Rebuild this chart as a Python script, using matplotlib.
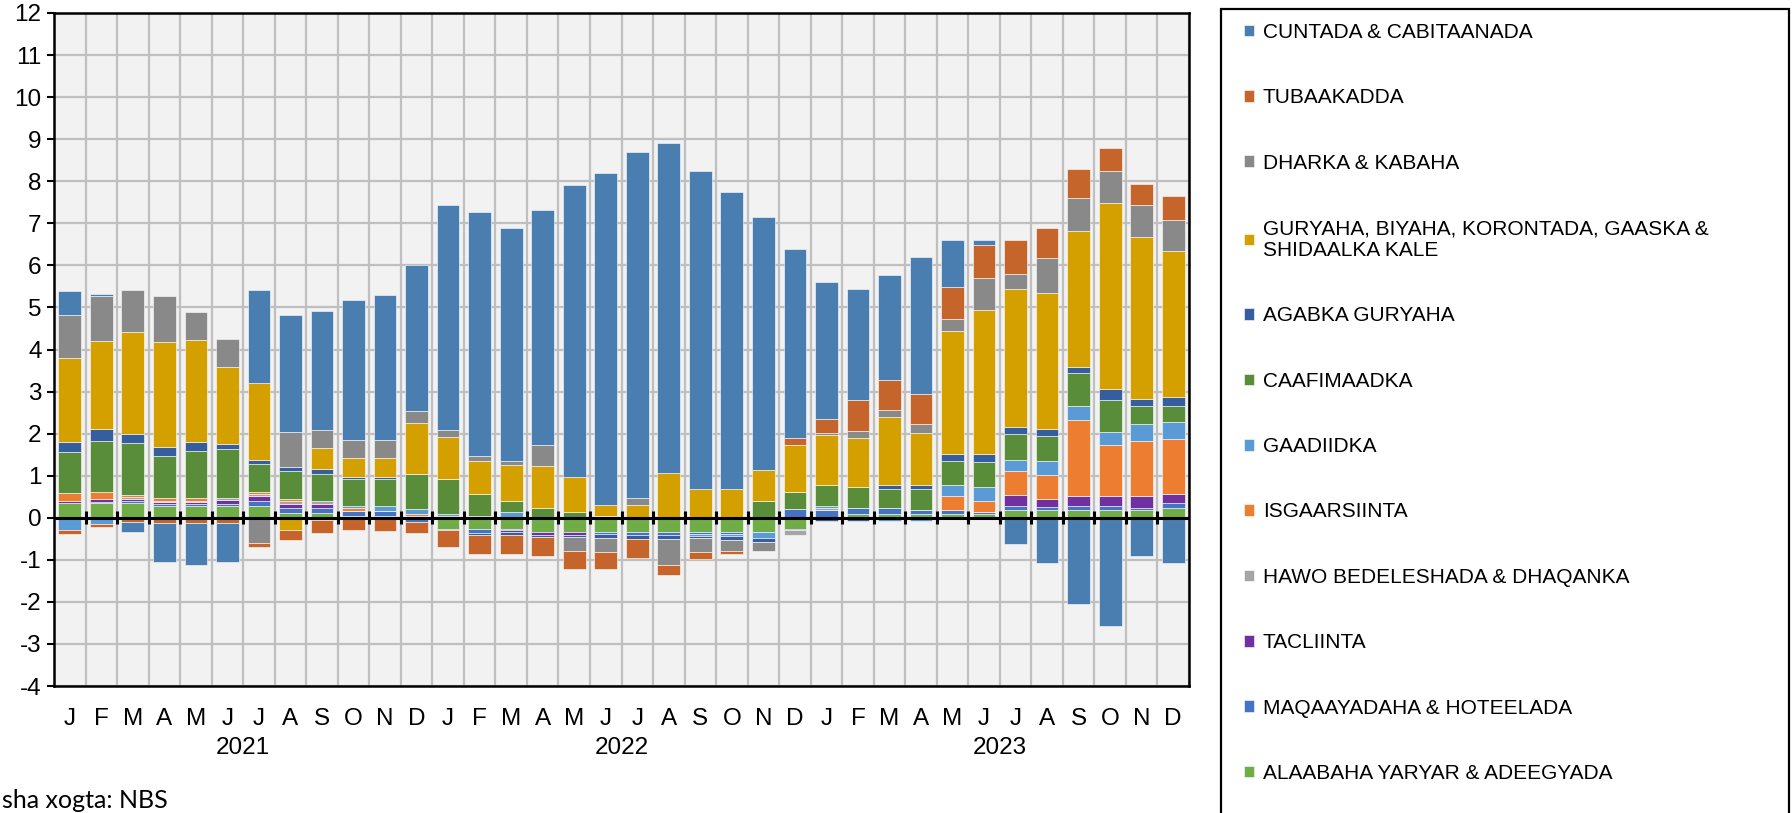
import numpy as np
import matplotlib
matplotlib.use("Agg")
import matplotlib.pyplot as plt
from matplotlib.patches import Rectangle

plt.rcParams['font.family'] = ['Liberation Sans', 'DejaVu Sans']
plt.rcParams['axes.unicode_minus'] = False

months = ["J", "F", "M", "A", "M", "J", "J", "A", "S", "O", "N", "D"] * 3
years = ["2021", "2022", "2023"]

# Series (legend order)
cuntada = [0.56, 0.05, -0.25, -0.93, -1.0, -0.93, 2.22, 2.77, 2.82, 3.32, 3.43, 3.48,
           5.35, 5.8, 5.53, 5.58, 6.95, 7.89, 8.24, 7.86, 7.56, 7.06, 6.02, 4.5,
           3.25, 2.66, 2.5, 3.26, 1.11, 0.12, -0.63, -1.08, -2.05, -2.58, -0.9, -1.08]
tubaakadda = [-0.1, -0.05, -0.1, -0.12, -0.12, -0.12, -0.1, -0.26, -0.3, -0.3, -0.32, -0.27,
              -0.4, -0.44, -0.44, -0.44, -0.42, -0.42, -0.45, -0.22, -0.16, -0.05, 0.0, 0.16,
              0.34, 0.72, 0.72, 0.72, 0.77, 0.77, 0.82, 0.71, 0.71, 0.55, 0.49, 0.55]
dharka = [1.04, 1.06, 0.99, 1.09, 0.66, 0.66, -0.6, 0.83, 0.44, 0.44, 0.44, 0.28,
          0.17, 0.11, 0.1, 0.5, -0.34, -0.34, 0.16, -0.62, -0.34, -0.28, -0.22, 0.0,
          0.05, 0.17, 0.16, 0.22, 0.28, 0.78, 0.34, 0.82, 0.77, 0.77, 0.76, 0.75]
guryaha = [2.0, 2.1, 2.43, 2.5, 2.44, 1.82, 1.82, -0.28, 0.5, 0.44, 0.44, 1.22,
           1.0, 0.78, 0.84, 1.0, 0.83, 0.28, 0.3, 1.06, 0.69, 0.69, 0.72, 1.12,
           1.17, 1.16, 1.61, 1.22, 2.93, 3.42, 3.29, 3.25, 3.23, 4.43, 3.86, 3.47]
agabka = [0.22, 0.28, 0.22, 0.22, 0.21, 0.12, 0.11, 0.11, 0.1, 0.05, 0.05, 0.0,
          0.0, -0.06, -0.08, -0.05, -0.05, -0.08, -0.1, -0.11, -0.04, -0.08, -0.1, 0.0,
          -0.08, -0.08, 0.11, 0.11, 0.17, 0.18, 0.16, 0.16, 0.16, 0.24, 0.16, 0.22]
caafimaadka = [0.99, 1.21, 1.22, 0.99, 1.12, 1.17, 0.66, 0.66, 0.66, 0.66, 0.66, 0.83,
               0.82, 0.54, 0.27, 0.24, 0.14, 0.0, 0.0, 0.0, 0.0, 0.0, 0.41, 0.42,
               0.5, 0.5, 0.44, 0.49, 0.55, 0.6, 0.62, 0.6, 0.78, 0.77, 0.44, 0.38]
gaadiidka = [-0.28, -0.16, 0.0, 0.0, 0.0, 0.0, 0.0, 0.0, -0.06, 0.05, 0.1, 0.11,
             0.05, 0.03, 0.14, 0.0, 0.0, 0.03, 0.0, 0.0, -0.05, -0.05, -0.12, 0.0,
             0.05, 0.0, -0.08, -0.08, 0.27, 0.34, 0.27, 0.33, 0.32, 0.32, 0.39, 0.39]
isgaarsiinta = [0.18, 0.18, 0.05, 0.06, 0.06, 0.0, 0.05, 0.05, 0.0, 0.05, 0.0, 0.05,
                0.04, 0.0, 0.0, 0.0, 0.0, 0.0, 0.0, 0.0, 0.0, 0.0, 0.0, 0.0,
                0.0, 0.0, 0.0, 0.0, 0.33, 0.26, 0.56, 0.56, 1.82, 1.21, 1.31, 1.31]
hawo = [0.0, 0.0, 0.05, 0.03, 0.02, 0.04, 0.05, 0.06, 0.06, 0.0, 0.0, 0.05,
        0.0, 0.0, 0.0, 0.0, 0.0, 0.0, 0.0, 0.0, 0.0, 0.0, 0.0, -0.1,
        0.05, 0.0, 0.0, 0.0, 0.0, 0.0, 0.0, 0.0, 0.0, 0.0, 0.0, 0.0]
tacliinta = [0.04, 0.07, 0.05, 0.05, 0.05, 0.1, 0.11, 0.11, 0.11, 0.0, 0.0, 0.0,
             0.0, 0.0, -0.04, -0.06, -0.06, 0.0, 0.0, 0.0, 0.0, 0.0, 0.0, -0.04,
             0.0, 0.0, 0.0, 0.0, 0.0, 0.0, 0.26, 0.2, 0.22, 0.22, 0.28, 0.21]
maqaayadaha = [0.02, 0.03, 0.06, 0.05, 0.05, 0.05, 0.12, 0.11, 0.11, 0.12, 0.12, -0.1,
               -0.04, -0.1, -0.04, 0.0, 0.0, -0.04, -0.05, -0.05, -0.04, -0.04, 0.0, 0.2,
               0.19, 0.16, 0.16, 0.11, 0.11, 0.05, 0.1, 0.06, 0.1, 0.1, 0.05, 0.12]
alaabaha = [0.34, 0.34, 0.34, 0.28, 0.28, 0.28, 0.28, 0.11, 0.11, 0.05, 0.05, 0.0,
            -0.26, -0.26, -0.26, -0.35, -0.35, -0.35, -0.35, -0.35, -0.35, -0.35, -0.35, -0.26,
            0.0, 0.08, 0.08, 0.08, 0.08, 0.08, 0.19, 0.19, 0.19, 0.19, 0.19, 0.24]

labels = ["CUNTADA & CABITAANADA", "TUBAAKADDA", "DHARKA & KABAHA",
          "GURYAHA, BIYAHA, KORONTADA, GAASKA &\nSHIDAALKA KALE", "AGABKA GURYAHA",
          "CAAFIMAADKA", "GAADIIDKA", "ISGAARSIINTA", "HAWO BEDELESHADA & DHAQANKA",
          "TACLIINTA", "MAQAAYADAHA & HOTEELADA", "ALAABAHA YARYAR & ADEEGYADA"]
series = [cuntada, tubaakadda, dharka, guryaha, agabka, caafimaadka, gaadiidka,
          isgaarsiinta, hawo, tacliinta, maqaayadaha, alaabaha]
colors = ["#4A7EB1", "#C5652B", "#898989", "#D4A000", "#365E9E", "#5A8D39",
          "#5B9BD5", "#ED7D31", "#A5A5A5", "#7030A0", "#4472C4", "#70AD47"]

fig = plt.figure(figsize=(17.92, 8.13), dpi=100)
W, H = 1792, 813
ax = fig.add_axes([54 / W, 1 - 686 / H, (1189 - 54) / W, (686 - 13) / H])
ax.set_facecolor("#F2F2F2")

x = np.arange(len(months))
pos = np.zeros(len(x))
neg = np.zeros(len(x))
handles = [None] * len(series)
for i in range(len(series) - 1, -1, -1):
    v = np.array(series[i], dtype=float)
    bottom = np.where(v >= 0, pos, neg)
    h = ax.bar(x, v, bottom=bottom, width=0.72, color=colors[i],
               edgecolor="#FFFFFF", linewidth=0.4, zorder=3)
    handles[i] = h
    pos = pos + np.where(v >= 0, v, 0)
    neg = neg + np.where(v < 0, v, 0)

ax.set_xlim(-0.5, len(x) - 0.5)
ax.set_ylim(-4, 12)
ax.set_yticks(np.arange(-4, 13, 1))
ax.set_xticks(x)
ax.set_xticklabels(months)
ax.set_xticks(np.arange(-0.5, len(x), 1), minor=True)
ax.grid(axis="y", which="major", color="#BFBFBF", lw=1.6, zorder=0)
ax.grid(axis="x", which="minor", color="#BFBFBF", lw=1.6, zorder=0)
ax.tick_params(axis="x", which="both", length=0, pad=16, labelsize=17.5)
ax.tick_params(axis="y", length=5, width=1.5, pad=4, labelsize=17.5)
for s in ax.spines.values():
    s.set_color("black")
    s.set_linewidth(1.8)

ax.axhline(0, color="black", lw=2.2, zorder=4)
ax.vlines(np.arange(0.5, len(x) - 1, 1), -0.15, 0.15, color="black", lw=2.2, zorder=5)

for k, yr in enumerate(years):
    ax.text(5.5 + 12 * k, -62 / 673, yr, transform=ax.get_xaxis_transform(),
            ha="center", va="center", fontsize=17.5)

fig.text(2 / W, 1 - 800 / H, "sha xogta: NBS", ha="left", va="center",
         fontsize=18, family=["Lato", "DejaVu Sans"])

# legend frame (extends beyond bottom of the figure)
fig.patches.append(Rectangle((1221 / W, -0.05), (1789 - 1221) / W, 1.05 - 9 / H,
                             transform=fig.transFigure, fill=False,
                             edgecolor="black", lw=1.6))
leg = fig.legend(handles, labels, loc="upper left",
                 bbox_to_anchor=(1244 / W, 1 - 23 / H), frameon=False,
                 fontsize=15, handlelength=0.48, handleheight=0.48,
                 handletextpad=0.42, labelspacing=2.225, borderpad=0,
                 borderaxespad=0)

fig.savefig("out.png", dpi=100)
